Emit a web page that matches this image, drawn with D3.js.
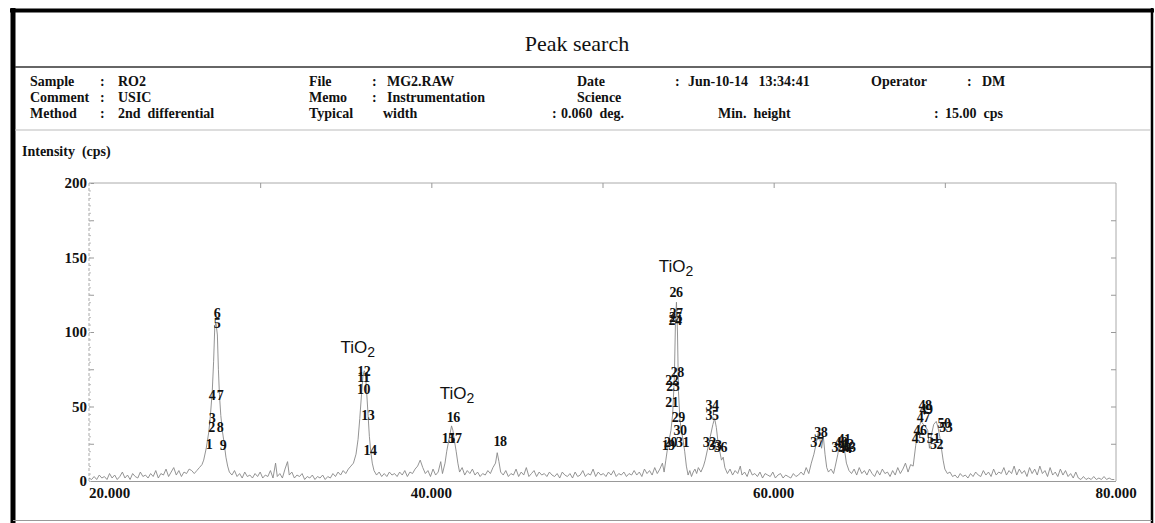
<!DOCTYPE html>
<html>
<head>
<meta charset="utf-8">
<script src="https://cdn.jsdelivr.net/npm/d3@7"></script>
<style>
  body { margin: 0; background: #fff; }
  svg text { font-family: "Liberation Serif", "DejaVu Serif", serif; }
  .hdr { font-size: 14px; font-weight: bold; fill: #111; }
  .pk { font-size: 14px; font-weight: bold; fill: #111; text-anchor: middle; letter-spacing: -0.5px; }
  .phase { font-family: "Liberation Sans", Arial, sans-serif !important; font-size: 17px; fill: #111; }
</style>
</head>
<body>
<div id="chart"></div>
<script>
// measured scan: [2theta (deg), intensity (cps)]
var scan = [
  [20.0,2],[20.15,1],[20.3,3],[20.45,1],[20.6,4],[20.75,2],[20.9,3],[21.05,1],[21.2,5],[21.35,2],
  [21.5,4],[21.65,1],[21.8,3],[21.95,6],[22.1,2],[22.25,4],[22.4,1],[22.55,5],[22.7,3],[22.85,2],
  [23.0,6],[23.15,3],[23.3,4],[23.45,2],[23.6,5],[23.75,3],[23.9,7],[24.05,2],[24.2,5],[24.35,4],
  [24.5,8],[24.65,3],[24.8,6],[24.95,9],[25.1,4],[25.25,7],[25.4,3],[25.55,6],[25.7,5],[25.85,8],
  [26.0,7],[26.15,5],[26.3,7],[26.45,9],[26.6,11],[26.7,14],[26.85,22],[27.0,33],[27.1,45],[27.2,60],
  [27.28,80],[27.35,104],[27.42,106],[27.5,98],[27.56,75],[27.62,58],[27.7,44],[27.8,33],[27.9,25],[28.0,16],
  [28.1,10],[28.2,6],[28.35,4],[28.5,7],[28.65,3],[28.8,5],[28.95,2],[29.1,6],[29.25,3],[29.4,4],
  [29.55,2],[29.7,5],[29.85,3],[30.0,6],[30.15,2],[30.3,4],[30.45,3],[30.6,7],[30.75,2],[30.9,12],
  [31.0,3],[31.15,5],[31.3,2],[31.45,8],[31.6,13],[31.7,4],[31.85,6],[32.0,2],[32.15,4],[32.3,3],
  [32.45,5],[32.6,1],[32.75,3],[32.9,2],[33.05,4],[33.2,1],[33.35,3],[33.5,2],[33.65,4],[33.8,1],
  [33.95,3],[34.1,2],[34.25,5],[34.4,3],[34.55,6],[34.7,4],[34.85,7],[35.0,5],[35.15,8],[35.3,10],
  [35.45,12],[35.6,18],[35.72,28],[35.82,42],[35.92,58],[36.0,70],[36.08,74],[36.15,72],[36.22,60],[36.3,45],
  [36.38,30],[36.46,20],[36.55,12],[36.65,7],[36.8,4],[36.95,6],[37.1,3],[37.25,5],[37.4,3],[37.55,6],
  [37.7,4],[37.85,5],[38.0,3],[38.15,6],[38.3,4],[38.45,7],[38.6,3],[38.75,6],[38.9,5],[39.05,8],
  [39.2,10],[39.35,14],[39.5,9],[39.65,5],[39.8,7],[39.95,3],[40.1,8],[40.25,4],[40.4,6],[40.55,13],
  [40.65,5],[40.8,12],[40.9,20],[41.0,26],[41.1,32],[41.18,37],[41.26,34],[41.35,27],[41.45,20],[41.55,12],
  [41.65,6],[41.8,9],[41.95,4],[42.1,7],[42.25,5],[42.4,8],[42.55,4],[42.7,6],[42.85,3],[43.0,5],
  [43.15,4],[43.3,7],[43.45,5],[43.6,9],[43.75,12],[43.85,19],[43.95,13],[44.05,6],[44.2,4],[44.35,7],
  [44.5,3],[44.65,5],[44.8,4],[44.95,8],[45.1,3],[45.25,6],[45.4,4],[45.55,9],[45.7,3],[45.85,5],
  [46.0,7],[46.15,3],[46.3,6],[46.45,4],[46.6,5],[46.75,3],[46.9,6],[47.05,4],[47.2,3],[47.35,5],
  [47.5,2],[47.65,6],[47.8,4],[47.95,3],[48.1,5],[48.25,2],[48.4,6],[48.55,3],[48.7,4],[48.85,7],
  [49.0,3],[49.15,5],[49.3,4],[49.45,8],[49.6,3],[49.75,6],[49.9,4],[50.05,5],[50.2,3],[50.35,6],
  [50.5,4],[50.65,7],[50.8,3],[50.95,5],[51.1,4],[51.25,6],[51.4,3],[51.55,5],[51.7,4],[51.85,7],
  [52.0,4],[52.15,6],[52.3,3],[52.45,8],[52.6,5],[52.75,7],[52.9,4],[53.05,9],[53.2,5],[53.35,8],
  [53.5,12],[53.6,6],[53.7,14],[53.8,22],[53.9,28],[54.0,34],[54.1,45],[54.2,70],[54.26,105],[54.32,120],
  [54.38,100],[54.44,60],[54.52,42],[54.6,34],[54.7,28],[54.8,20],[54.9,10],[55.0,4],[55.1,7],[55.2,3],
  [55.3,6],[55.4,8],[55.5,5],[55.6,9],[55.75,6],[55.9,10],[56.0,14],[56.15,22],[56.3,30],[56.45,38],
  [56.55,42],[56.65,36],[56.75,26],[56.85,20],[56.95,14],[57.05,16],[57.15,9],[57.3,5],[57.45,8],[57.6,4],
  [57.75,7],[57.9,5],[58.05,10],[58.15,4],[58.3,6],[58.45,3],[58.6,8],[58.75,4],[58.9,5],[59.05,3],
  [59.2,6],[59.35,2],[59.5,5],[59.65,4],[59.8,3],[59.95,6],[60.1,2],[60.25,4],[60.4,5],[60.55,2],
  [60.7,4],[60.85,3],[61.0,2],[61.15,5],[61.3,3],[61.45,4],[61.6,6],[61.75,4],[61.9,9],[62.05,5],
  [62.2,12],[62.35,18],[62.5,26],[62.6,32],[62.7,28],[62.8,22],[62.9,30],[63.0,18],[63.1,9],[63.2,6],
  [63.35,8],[63.5,5],[63.6,10],[63.75,18],[63.85,26],[63.95,30],[64.05,28],[64.15,20],[64.25,12],[64.4,7],
  [64.55,5],[64.7,8],[64.85,4],[65.0,9],[65.15,5],[65.3,7],[65.45,4],[65.6,8],[65.75,5],[65.9,3],
  [66.05,7],[66.2,4],[66.35,8],[66.5,5],[66.65,6],[66.8,3],[66.95,7],[67.1,4],[67.25,9],[67.4,5],
  [67.55,8],[67.7,12],[67.85,6],[68.0,11],[68.15,10],[68.3,24],[68.45,34],[68.6,40],[68.75,38],[68.9,36],
  [69.0,34],[69.1,22],[69.2,30],[69.35,38],[69.5,40],[69.6,36],[69.7,30],[69.8,22],[69.9,14],[70.0,8],
  [70.15,5],[70.3,6],[70.45,3],[70.6,4],[70.75,2],[70.9,5],[71.05,3],[71.2,4],[71.35,2],[71.5,5],
  [71.65,3],[71.8,6],[71.95,4],[72.1,3],[72.25,7],[72.4,4],[72.55,6],[72.7,3],[72.85,8],[73.0,4],
  [73.15,6],[73.3,5],[73.45,9],[73.6,4],[73.75,7],[73.9,5],[74.05,10],[74.2,4],[74.35,8],[74.5,5],
  [74.65,7],[74.8,3],[74.95,9],[75.1,5],[75.25,8],[75.4,4],[75.55,10],[75.7,5],[75.85,7],[76.0,3],
  [76.15,9],[76.3,4],[76.45,6],[76.6,3],[76.75,8],[76.9,4],[77.05,7],[77.2,3],[77.35,5],[77.5,2],
  [77.65,6],[77.8,2],[77.95,1],[78.1,3],[78.25,1],[78.4,2],[78.55,1],[78.7,3],[78.85,1],[79.0,2],
  [79.15,1],[79.3,3],[79.45,1],[79.6,2],[79.75,1],[79.9,1]
];

// peak search results: number, 2theta, height at which the number is printed (cps)
var peakNos    = [1,2,3,4,5,6,7,8,9,10,11,12,13,14,15,16,17,18,19,20,21,22,23,24,25,26,27,28,29,30,31,
                  32,33,34,35,36,37,38,39,40,41,42,43,44,45,46,47,48,49,50,51,52,53];
var peakAngles = [27.01,27.15,27.19,27.19,27.48,27.48,27.65,27.65,27.83,36.03,36.03,36.05,36.28,36.42,40.99,41.28,41.38,44.01,
                  53.84,53.98,54.04,54.04,54.10,54.24,54.26,54.29,54.29,54.37,54.43,54.53,54.68,
                  56.24,56.57,56.40,56.40,56.90,62.51,62.75,63.76,63.93,64.11,64.28,64.40,64.17,
                  68.45,68.55,68.74,68.84,68.90,69.95,69.32,69.52,70.05];
var peakLevels = [25,36,42,58,106,113,58,36,24,62,70,74,44,21,29,43,29,27,
                  24,26,53,68,64,108,110,127,113,73,43,34,26,
                  26,24,51,44,23,26,33,23,26,28,25,23,22,
                  29,34,43,51,48,39,29,25,36];

// phase labels
var phaseAngles = [35.7, 41.5, 54.3];
var phaseLevels = [86, 55, 140];

var xTicks = [20, 40, 60, 80];
var yTicks = [0, 50, 100, 150, 200];

// header fields
var hdrLabels = ["Sample", "Comment", "Method"];
var hdrValues = ["RO2", "USIC", "2nd  differential"];

var W = 1155, H = 523;
var svg = d3.select("#chart").append("svg").attr("width", W).attr("height", H);

// frame
svg.append("line").attr("x1", 10).attr("x2", 1154).attr("y1", 10.5).attr("y2", 10.5)
    .attr("stroke", "#000").attr("stroke-width", 4);
svg.append("line").attr("x1", 13).attr("x2", 13).attr("y1", 8).attr("y2", 523)
    .attr("stroke", "#000").attr("stroke-width", 5);
svg.append("line").attr("x1", 1152).attr("x2", 1152).attr("y1", 8).attr("y2", 523)
    .attr("stroke", "#000").attr("stroke-width", 2.5);
svg.append("line").attr("x1", 13).attr("x2", 1152).attr("y1", 520.5).attr("y2", 520.5)
    .attr("stroke", "#999").attr("stroke-width", 1);
svg.append("line").attr("x1", 15).attr("x2", 1151).attr("y1", 67).attr("y2", 67)
    .attr("stroke", "#333").attr("stroke-width", 1.5);
svg.append("line").attr("x1", 15).attr("x2", 1151).attr("y1", 130).attr("y2", 130)
    .attr("stroke", "#bbb").attr("stroke-width", 1);

svg.append("text").attr("x", 577).attr("y", 51).attr("text-anchor", "middle")
    .style("font-size", "22px").attr("fill", "#111").text("Peak search");

// header block
var rowY = [86, 102, 118];
hdrLabels.forEach(function(t, i) {
    svg.append("text").attr("class", "hdr").attr("x", 30).attr("y", rowY[i]).text(t);
    svg.append("text").attr("class", "hdr").attr("x", 100).attr("y", rowY[i]).text(":");
    svg.append("text").attr("class", "hdr").attr("x", 118).attr("y", rowY[i])
        .style("white-space", "pre").text(hdrValues[i]);
});
var hdrText = [
    [309, 0, "File"], [372, 0, ":"], [387, 0, "MG2.RAW"],
    [577, 0, "Date"], [675, 0, ":"], [688, 0, "Jun-10-14   13:34:41"],
    [871, 0, "Operator"], [967, 0, ":"], [982, 0, "DM"],
    [309, 1, "Memo"], [372, 1, ":"], [387, 1, "Instrumentation"], [577, 1, "Science"],
    [309, 2, "Typical"], [383, 2, "width"], [552, 2, ":"], [561, 2, "0.060  deg."],
    [718, 2, "Min.  height"], [934, 2, ":"], [945, 2, "15.00  cps"]
];
hdrText.forEach(function(d) {
    svg.append("text").attr("class", "hdr").attr("x", d[0]).attr("y", rowY[d[1]])
        .style("white-space", "pre").text(d[2]);
});

svg.append("text").attr("class", "hdr").attr("x", 22).attr("y", 156)
    .style("white-space", "pre").text("Intensity  (cps)");

// plot
var x = d3.scaleLinear().domain([20, 80]).range([89, 1116]);
var y = d3.scaleLinear().domain([0, 200]).range([481, 183]);

var g = svg.append("g");

// plot box
g.append("line").attr("x1", x(20)).attr("x2", x(80)).attr("y1", y(200)).attr("y2", y(200))
    .attr("stroke", "#aaa");
g.append("line").attr("x1", x(80)).attr("x2", x(80)).attr("y1", y(200)).attr("y2", y(0))
    .attr("stroke", "#aaa");
g.append("line").attr("x1", x(20)).attr("x2", x(80)).attr("y1", y(0) + 0.5).attr("y2", y(0) + 0.5)
    .attr("stroke", "#999");
g.append("line").attr("x1", x(20)).attr("x2", x(20)).attr("y1", y(200)).attr("y2", y(0))
    .attr("stroke", "#aaa").attr("stroke-dasharray", "3,2");

// left axis: labels every 50, ticks every 25, small marks every 5
var leftAx = g.append("g").attr("transform", "translate(" + x(20) + ",0)")
    .call(d3.axisRight(y).tickValues(d3.range(0, 201, 25)).tickSize(5).tickFormat(""));
leftAx.select(".domain").remove();
leftAx.selectAll("line").attr("stroke", "#999");
var minorAx = g.append("g").attr("transform", "translate(" + x(20) + ",0)")
    .call(d3.axisRight(y).tickValues(d3.range(0, 201, 5)).tickSize(2).tickFormat(""));
minorAx.select(".domain").remove();
minorAx.selectAll("line").attr("stroke", "#bbb");

g.selectAll(".ylab").data(yTicks).enter().append("text")
    .attr("x", x(20) - 2).attr("y", function(d) { return y(d) + 5; })
    .attr("text-anchor", "end").style("font-size", "15px").style("font-weight", "bold")
    .attr("fill", "#111").text(function(d) { return d; });

// right axis ticks
var rightAx = g.append("g").attr("transform", "translate(" + x(80) + ",0)")
    .call(d3.axisLeft(y).tickValues(d3.range(25, 200, 25)).tickSize(5).tickFormat(""));
rightAx.select(".domain").remove();
rightAx.selectAll("line").attr("stroke", "#999");

// top axis ticks
var topAx = g.append("g").attr("transform", "translate(0," + y(200) + ")")
    .call(d3.axisBottom(x).tickValues(d3.range(30, 80, 10)).tickSize(5).tickFormat(""));
topAx.select(".domain").remove();
topAx.selectAll("line").attr("stroke", "#999");

g.selectAll(".xlab").data(xTicks).enter().append("text")
    .attr("x", function(d) { return x(d); })
    .attr("y", 498)
    .attr("text-anchor", function(d, i) { return i === 0 ? "start" : "middle"; })
    .style("font-size", "15px").style("font-weight", "bold").attr("fill", "#111")
    .text(function(d) { return d3.format(".3f")(d); });

// scan line
var line = d3.line().x(function(d) { return x(d[0]); }).y(function(d) { return y(d[1]); });
g.append("path").datum(scan).attr("d", line)
    .attr("fill", "none").attr("stroke", "#888").attr("stroke-width", 0.9);

// peak numbers
g.selectAll(".pk").data(peakNos).enter().append("text").attr("class", "pk")
    .attr("x", function(d, i) { return x(peakAngles[i]); })
    .attr("y", function(d, i) { return y(peakLevels[i]) + 5; })
    .text(function(d) { return d; });

// phase labels
phaseAngles.forEach(function(a, i) {
    var t = g.append("text").attr("class", "phase")
        .attr("x", x(a)).attr("y", y(phaseLevels[i])).attr("text-anchor", "middle");
    t.append("tspan").text("TiO");
    t.append("tspan").attr("dy", 4).style("font-size", "14px").text("2");
});
</script>
</body>
</html>
